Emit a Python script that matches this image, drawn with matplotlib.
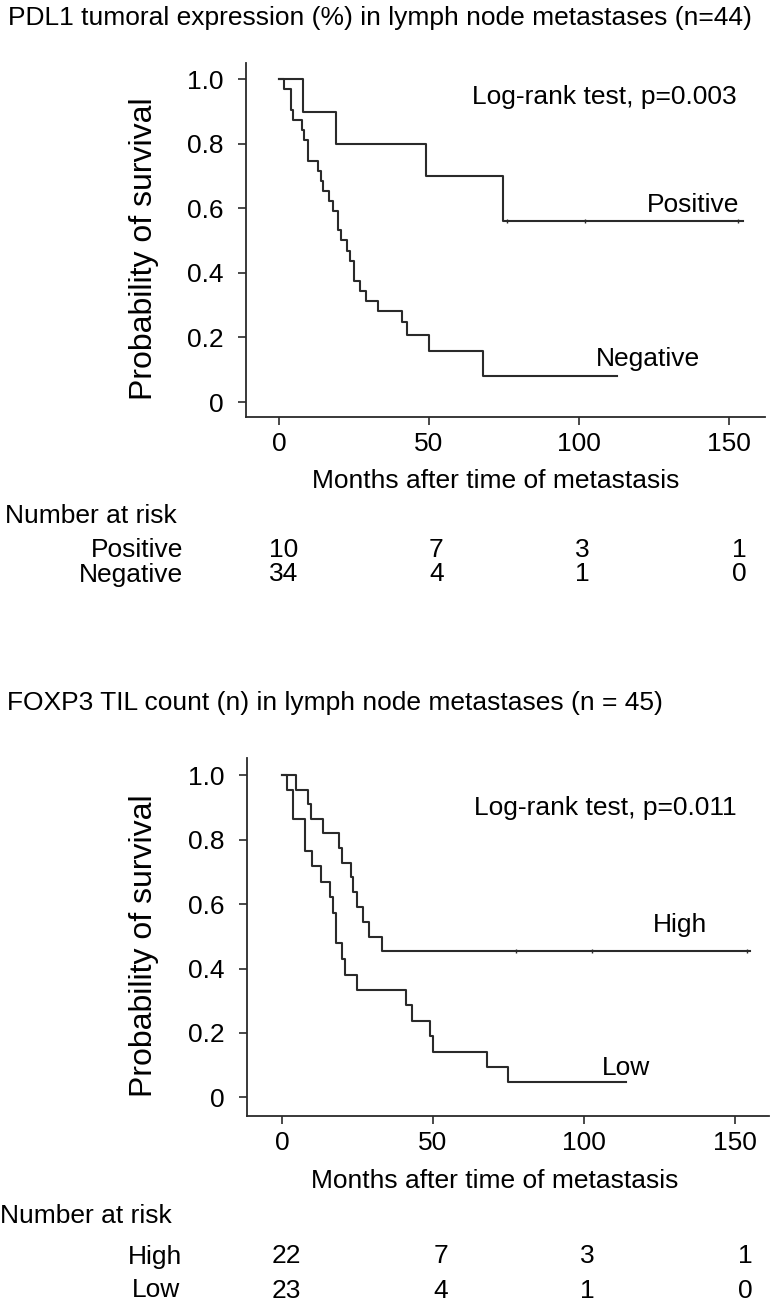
import numpy as np
import matplotlib.pyplot as plt
from matplotlib import transforms

plt.rcParams['font.family'] = ['Liberation Sans', 'DejaVu Sans']
plt.rcParams['font.size'] = 19

# --- PDL1 panel (top) ---
pos_t = [0, 7.9, 19.0, 48.9, 74.8, 154.8]
pos_s = [1.0, 0.9, 0.8, 0.7, 0.56, 0.56]
pos_cens = [76, 102, 153]

neg_t = [0, 1.8, 3.9, 4.8, 7.6, 8.4, 9.8, 13.1, 14.0, 14.8, 16.8, 17.9, 19.8,
         20.7, 22.8, 23.7, 25.0, 27.0, 29.0, 32.9, 40.9, 42.8, 50.0, 67.9, 112.7]
neg_s = [1.0, 0.97, 0.905, 0.875, 0.843, 0.812, 0.748, 0.717, 0.686, 0.655,
         0.624, 0.593, 0.533, 0.502, 0.469, 0.438, 0.376, 0.345, 0.314, 0.283,
         0.249, 0.207, 0.158, 0.081, 0.081]

# --- FOXP3 panel (bottom) ---
high_t = [0, 4.6, 8.7, 9.6, 13.7, 18.9, 19.8, 22.9, 23.6, 24.7, 26.7, 28.8, 33.0, 155]
high_s = [1.0, 0.955, 0.91, 0.866, 0.82, 0.775, 0.729, 0.683, 0.639, 0.592,
          0.545, 0.499, 0.454, 0.454]
high_cens = [77.6, 102.6, 154]

low_t = [0, 1.5, 3.5, 7.6, 9.8, 12.8, 15.9, 16.8, 17.9, 19.8, 20.9, 24.9, 40.9,
         42.9, 49.0, 49.9, 68.0, 74.9, 113.9]
low_s = [1.0, 0.956, 0.863, 0.766, 0.718, 0.668, 0.621, 0.573, 0.478, 0.43,
         0.38, 0.333, 0.287, 0.238, 0.19, 0.142, 0.095, 0.047, 0.047]

risk_x = [1.5, 52.5, 101, 153.5]
pdl1_pos_risk = ['10', '7', '3', '1']
pdl1_neg_risk = ['34', '4', '1', '0']
foxp3_high_risk = ['22', '7', '3', '1']
foxp3_low_risk = ['23', '4', '1', '0']

xticks = [0, 50, 100, 150]
yticks = [0, 0.2, 0.4, 0.6, 0.8, 1.0]
ytick_labels = ['0', '0.2', '0.4', '0.6', '0.8', '1.0']

W, H = 772, 1304
fig = plt.figure(figsize=(W / 100, H / 100), dpi=100)
col = '#2a2a2a'


def px_axes(l, t, r, b):
    return fig.add_axes([l / W, 1 - b / H, (r - l) / W, (b - t) / H])


def ftext(x, y, s, **kw):
    fig.text(x / W, 1 - y / H, s, color='black', **kw)


def style(ax, xlim, ylim):
    for s in ['top', 'right']:
        ax.spines[s].set_visible(False)
    for s in ['left', 'bottom']:
        ax.spines[s].set_linewidth(1.3)
        ax.spines[s].set_color(col)
    ax.set_xlim(xlim)
    ax.set_ylim(ylim)
    ax.set_xticks(xticks)
    ax.set_yticks(yticks)
    ax.set_yticklabels(ytick_labels)
    ax.tick_params(axis='both', length=6, width=1.2, color=col, labelsize=19)
    ax.tick_params(axis='x', pad=5)
    ax.tick_params(axis='y', pad=10)


def km(ax, t, s, cens, cens_y):
    ax.step(t, s, where='post', color=col, lw=1.5)
    if cens:
        ax.plot(cens, [cens_y] * len(cens), ls='none', marker='|', ms=3,
                mew=1, color=col)


ax1 = px_axes(246, 63, 765, 417)
style(ax1, (-11, 162), (-0.0465, 1.051))
km(ax1, pos_t, pos_s, pos_cens, pos_s[-1])
km(ax1, neg_t, neg_s, None, None)
ax1.text(64.3, 0.946, 'Log-rank test, p=0.003', va='center', ha='left')
ax1.text(122.7, 0.589, 'Positive', va='baseline', ha='left')
ax1.text(105.7, 0.112, 'Negative', va='baseline', ha='left')
ax1.text(-0.1965, 0.476, 'Probability of survival', rotation=90,
         ha='center', va='center', fontsize=23, transform=ax1.transAxes)
ax1.text(0.482, (417 - 488) / 354, 'Months after time of metastasis',
         ha='center', va='baseline', transform=ax1.transAxes)

ax2 = px_axes(247, 758, 769, 1116)
style(ax2, (-11.6, 161.3), (-0.058, 1.054))
km(ax2, high_t, high_s, high_cens, high_s[-1])
km(ax2, low_t, low_s, None, None)
ax2.text(63.5, 0.90, 'Log-rank test, p=0.011', va='center', ha='left')
ax2.text(122.8, 0.513, 'High', va='baseline', ha='left')
ax2.text(106, 0.07, 'Low', va='baseline', ha='left')
ax2.text(-0.1965, 0.476, 'Probability of survival', rotation=90,
         ha='center', va='center', fontsize=23, transform=ax2.transAxes)
ax2.text(0.475, (1116 - 1188) / 358, 'Months after time of metastasis',
         ha='center', va='baseline', transform=ax2.transAxes)

# titles
ftext(8, 18, 'PDL1 tumoral expression (%) in lymph node metastases (n=44)',
      ha='left', va='center')
ftext(7, 703, 'FOXP3 TIL count (n) in lymph node metastases (n = 45)',
      ha='left', va='center')

# number at risk tables
ftext(5, 523, 'Number at risk', ha='left', va='baseline')
ftext(183, 557, 'Positive', ha='right', va='baseline')
ftext(183, 582, 'Negative', ha='right', va='baseline')
tr1 = transforms.blended_transform_factory(ax1.transData, fig.transFigure)
for x, a, b in zip(risk_x, pdl1_pos_risk, pdl1_neg_risk):
    ax1.text(x, 1 - 557 / H, a, ha='center', va='baseline', transform=tr1)
    ax1.text(x, 1 - 581 / H, b, ha='center', va='baseline', transform=tr1)

ftext(0, 1223, 'Number at risk', ha='left', va='baseline')
ftext(182.5, 1264, 'High', ha='right', va='baseline')
ftext(180, 1297, 'Low', ha='right', va='baseline')
tr2 = transforms.blended_transform_factory(ax2.transData, fig.transFigure)
for x, a, b in zip(risk_x, foxp3_high_risk, foxp3_low_risk):
    ax2.text(x, 1 - 1263 / H, a, ha='center', va='baseline', transform=tr2)
    ax2.text(x, 1 - 1298 / H, b, ha='center', va='baseline', transform=tr2)

fig.savefig('out.png', dpi=100)
